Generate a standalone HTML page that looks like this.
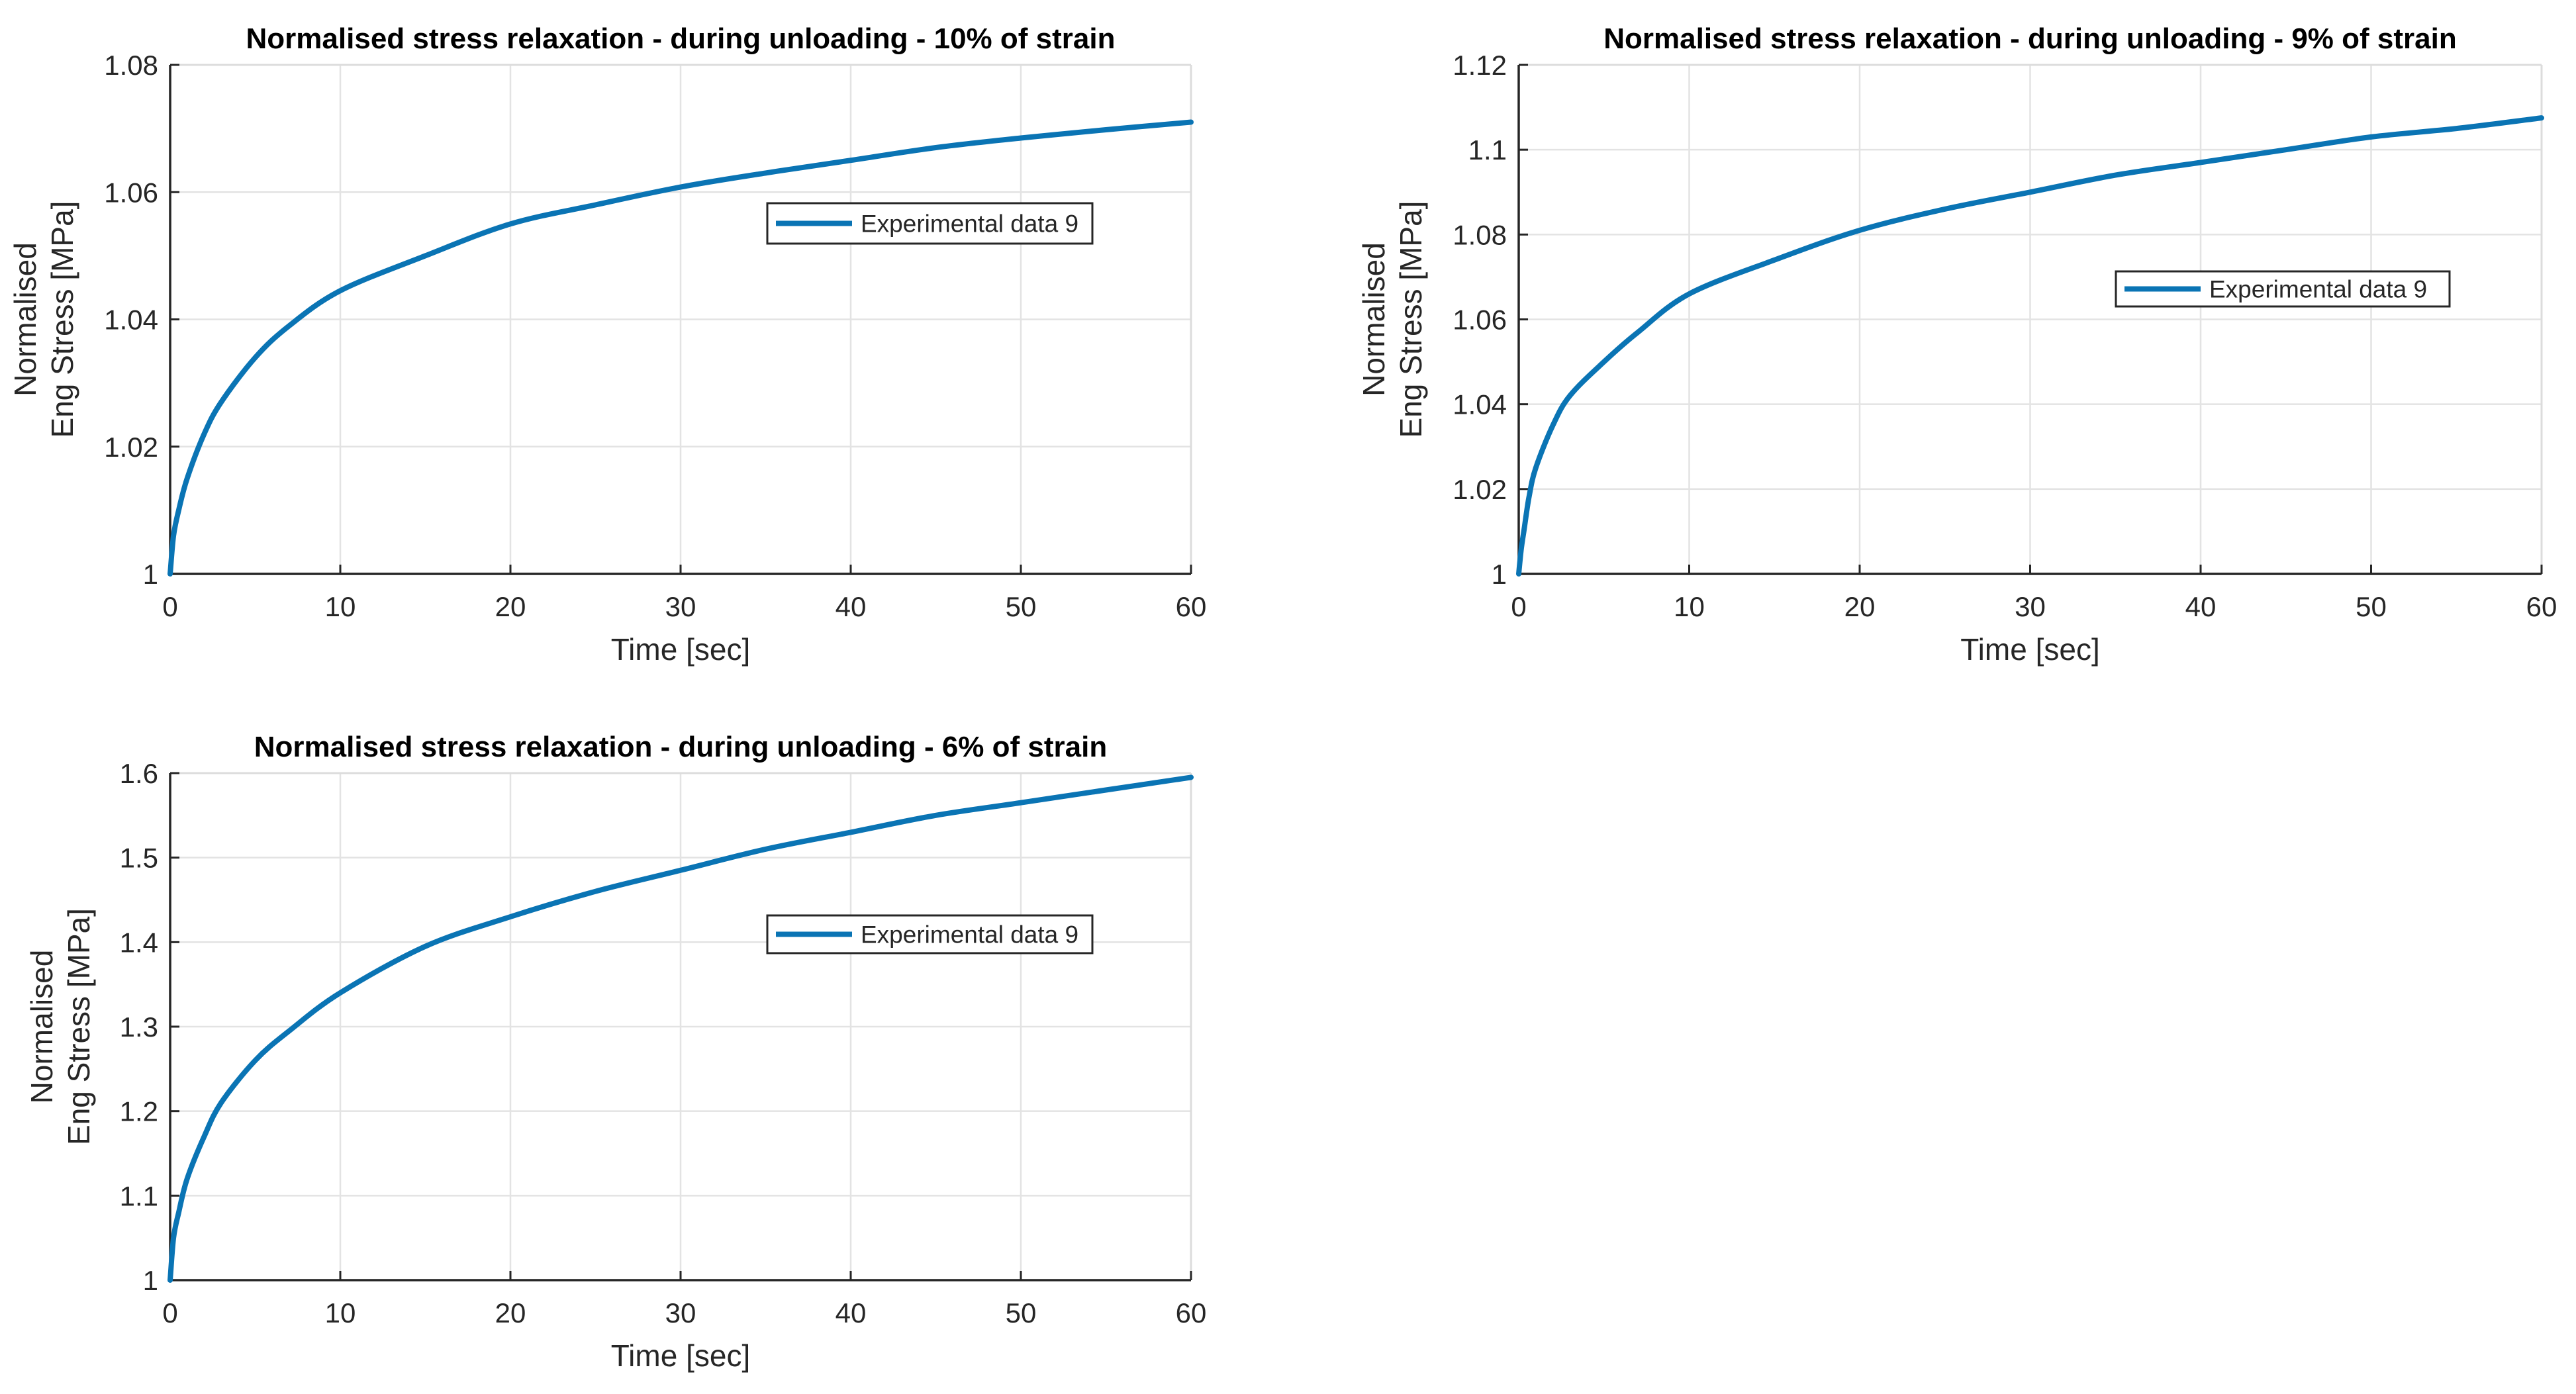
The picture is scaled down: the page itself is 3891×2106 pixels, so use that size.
<!DOCTYPE html>
<html><head><meta charset="utf-8"><style>
html,body{margin:0;padding:0;background:#fff}
svg{display:block}
text{font-family:"Liberation Sans",sans-serif;fill:#262626}
</style></head><body>
<svg id="fig" width="3891" height="2106" viewBox="0 0 3891 2106" xmlns="http://www.w3.org/2000/svg"></svg>
<script>
const xTicks=[0,10,20,30,40,50,60];
const titles=["Normalised stress relaxation - during unloading - 10% of strain","Normalised stress relaxation - during unloading - 9% of strain","Normalised stress relaxation - during unloading - 6% of strain"];
const yTicks1=[1,1.02,1.04,1.06,1.08];
const yTicks2=[1,1.02,1.04,1.06,1.08,1.1,1.12];
const yTicks3=[1,1.1,1.2,1.3,1.4,1.5,1.6];
const times1=[0,0.2,0.5,1,2,3,5,7,10,15,20,25,30,35,40,45,50,55,60];
const values1=[1,1.006,1.010,1.015,1.022,1.027,1.034,1.039,1.0445,1.050,1.055,1.058,1.0608,1.063,1.065,1.067,1.0685,1.0698,1.071];
const times2=[0,0.15,0.3,0.6,1,2,3,5,7,10,15,20,25,30,35,40,45,50,55,60];
const values2=[1,1.006,1.010,1.018,1.025,1.035,1.042,1.050,1.057,1.066,1.074,1.081,1.086,1.090,1.094,1.097,1.100,1.103,1.105,1.1075];
const times3=[0,0.2,0.5,1,2,3,5,7,10,15,20,25,30,35,40,45,50,55,60];
const values3=[1,1.05,1.08,1.12,1.17,1.21,1.26,1.295,1.34,1.395,1.43,1.46,1.485,1.51,1.53,1.55,1.565,1.58,1.595];
const legendLabel="Experimental data 9";

const NS="http://www.w3.org/2000/svg";
const fig=document.getElementById('fig');
function mk(tag,attrs,parent){const e=document.createElementNS(NS,tag);for(const k in attrs)e.setAttribute(k,attrs[k]);(parent||fig).appendChild(e);return e;}
function smoothPath(P){
 let d='M'+P[0][0].toFixed(1)+','+P[0][1].toFixed(1);
 for(let i=0;i<P.length-1;i++){
  const p0=P[Math.max(0,i-1)],p1=P[i],p2=P[i+1],p3=P[Math.min(P.length-1,i+2)];
  const c1=[p1[0]+(p2[0]-p0[0])/6,p1[1]+(p2[1]-p0[1])/6];
  const c2=[p2[0]-(p3[0]-p1[0])/6,p2[1]-(p3[1]-p1[1])/6];
  d+=' C'+c1.map(v=>v.toFixed(1)).join(',')+' '+c2.map(v=>v.toFixed(1)).join(',')+' '+p2[0].toFixed(1)+','+p2[1].toFixed(1);
 }
 return d;
}

const panels=[
 {L:257,R:1799,T:98,B:867,title:titles[0],yt:yTicks1,ymin:1,ymax:1.08,t:times1,v:values1,leg:[1159,307,1650,368],dec:2,lab:195},
 {L:2294,R:3839,T:98,B:867,title:titles[1],yt:yTicks2,ymin:1,ymax:1.12,t:times2,v:values2,leg:[3196,410,3700,463],dec:2,lab:195},
 {L:257,R:1799,T:1168,B:1934,title:titles[2],yt:yTicks3,ymin:1,ymax:1.6,t:times3,v:values3,leg:[1159,1383,1650,1440],dec:1,lab:170}
];
panels.forEach((p,i)=>{
 const g=mk('g',{});
 
 
 const xs=t=>p.L+(t-0)/(60-0)*(p.R-p.L);
 const ys=v=>p.B-(v-p.ymin)/(p.ymax-p.ymin)*(p.B-p.T);
 xTicks.forEach(t=>{const l=mk('line',{x1:xs(t),x2:xs(t),y1:p.T,y2:p.B,stroke:'#e3e3e3','stroke-width':2.5},g);
  });
 p.yt.forEach(v=>{const l=mk('line',{x1:p.L,x2:p.R,y1:ys(v),y2:ys(v),stroke:'#e3e3e3','stroke-width':2.5},g);
  });
 mk('line',{x1:p.R,x2:p.R,y1:p.T,y2:p.B,stroke:'#dcdcdc','stroke-width':3},g);
 mk('line',{x1:p.L,x2:p.R,y1:p.T,y2:p.T,stroke:'#dcdcdc','stroke-width':3},g);
 const ax=mk('line',{x1:p.L,x2:p.R,y1:p.B,y2:p.B,stroke:'#262626','stroke-width':3.5},g);
 
 const ay=mk('line',{x1:p.L,x2:p.L,y1:p.T,y2:p.B,stroke:'#262626','stroke-width':3.5},g);
 
 xTicks.forEach(t=>{
  mk('line',{x1:xs(t),x2:xs(t),y1:p.B,y2:p.B-14,stroke:'#262626','stroke-width':3},g);
  const tx=mk('text',{x:xs(t),y:p.B+64,'font-size':42,'text-anchor':'middle'},g);tx.textContent=t;
  
 });
 p.yt.forEach(v=>{
  mk('line',{x1:p.L,x2:p.L+14,y1:ys(v),y2:ys(v),stroke:'#262626','stroke-width':3},g);
  const tx=mk('text',{x:p.L-18,y:ys(v)+15,'font-size':42,'text-anchor':'end'},g);
  tx.textContent=(v===1)?'1':String(+v.toFixed(p.dec));
  
 });
 const ti=mk('text',{x:(p.L+p.R)/2,y:p.T-25,'font-size':44,'font-weight':'bold','text-anchor':'middle',style:'fill:#000'},g);
 ti.textContent=p.title;
 const xl=mk('text',{x:(p.L+p.R)/2,y:p.B+130,'font-size':46,'text-anchor':'middle'},g);
 xl.textContent='Time [sec]';
 const cy=(p.T+p.B)/2, lx=p.L-p.lab;
 const yl=mk('text',{transform:`translate(${lx},${cy}) rotate(-90)`,'font-size':46,'text-anchor':'middle'},g);
 
 const s1=mk('tspan',{x:0,dy:-8},yl);s1.textContent='Normalised';
 const s2=mk('tspan',{x:0,dy:56},yl);s2.textContent='Eng Stress [MPa]';
 const P=p.t.map((t,k)=>[xs(t),ys(p.v[k])]);
 const ln=mk('path',{d:smoothPath(P),fill:'none',stroke:'#0a74b4','stroke-width':8,'stroke-linejoin':'round','stroke-linecap':'round'},g);
 
 const [a,b,c,d]=p.leg;
 const lg=mk('g',{},g);
 mk('rect',{x:a,y:b,width:c-a,height:d-b,fill:'#fff',stroke:'#262626','stroke-width':3},lg);
 mk('line',{x1:a+13,x2:a+128,y1:(b+d)/2,y2:(b+d)/2,stroke:'#0a74b4','stroke-width':8},lg);
 const lt=mk('text',{x:a+141,y:(b+d)/2+13,'font-size':37},lg);lt.textContent=legendLabel;
 
});
</script>
</body></html>
